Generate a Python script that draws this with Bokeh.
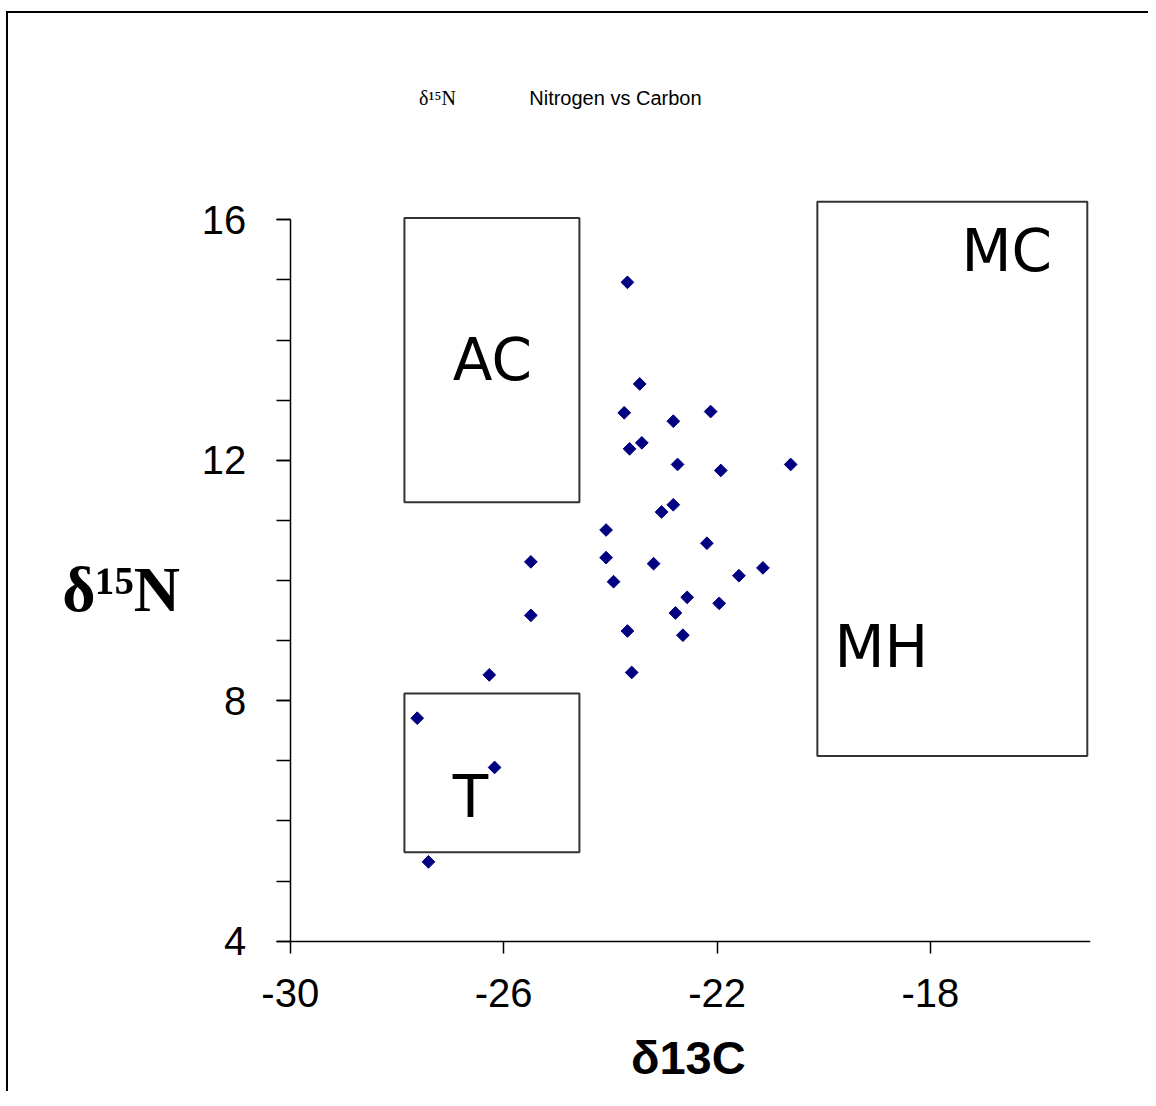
from bokeh.plotting import figure
from bokeh.models import FixedTicker, Label, Range1d, ColumnDataSource
from bokeh.core.properties import value
from bokeh.embed import file_html
from bokeh.resources import INLINE
import math

# ---- data ----
d13c = [-23.68, -23.45, -23.74, -22.82, -22.12, -23.64, -23.41, -22.74, -21.93, -20.62,
        -22.82, -23.04, -24.08, -22.19, -25.49, -24.08, -23.19, -21.14, -21.59, -23.94,
        -22.56, -21.96, -22.78, -25.49, -23.68, -22.64, -26.27, -23.60, -27.62, -26.17,
        -27.41]
d15n = [14.96, 13.27, 12.79, 12.65, 12.81, 12.19, 12.29, 11.93, 11.83, 11.93,
        11.26, 11.14, 10.84, 10.62, 10.31, 10.38, 10.28, 10.21, 10.08, 9.98,
        9.72, 9.62, 9.46, 9.42, 9.16, 9.09, 8.43, 8.47, 7.71, 6.89,
        5.32]

x_ticks = [-30, -26, -22, -18]
x_tick_labels = ["-30", "-26", "-22", "-18"]
y_ticks = [4, 8, 12, 16]
y_minor = list(range(4, 17))

box_left = [-27.86, -27.86, -20.12]
box_right = [-24.58, -24.58, -15.06]
box_top = [16.03, 8.12, 16.30]
box_bottom = [11.30, 5.48, 7.08]

region_names = ["AC", "T", "MC", "MH"]
region_x = [-26.21, -26.62, -16.57, -18.92]
region_y = [13.66, 6.40, 15.48, 8.90]

X0, X1 = -30, -15   # axis extents
Y0, Y1 = 4, 16

p = figure(frame_width=1067, frame_height=1022,
           x_range=Range1d(-35, -15), y_range=Range1d(1.5, 18.5),
           output_backend="svg", toolbar_location=None,
           min_border_left=15, min_border_top=56,
           min_border_right=58, min_border_bottom=0,
           background_fill_color="white", border_fill_color="white")
p.styles = {"border-top": "2px solid black", "border-left": "2px solid black",
            "margin-top": "11px", "margin-left": "6px"}
p.outline_line_color = None
p.grid.visible = False

# axes, drawn at the data origin (-30, 4)
p.xaxis.ticker = FixedTicker(ticks=x_ticks, minor_ticks=[])
p.xaxis.major_label_overrides = dict(zip(x_ticks, x_tick_labels))
p.yaxis.ticker = FixedTicker(ticks=y_ticks, minor_ticks=y_minor)
p.xaxis.bounds = (X0, X1)
p.yaxis.bounds = (Y0, Y1)
p.xaxis.fixed_location = Y0
p.yaxis.fixed_location = X0
for ax in (p.xaxis[0], p.yaxis[0]):
    ax.axis_line_color = "black"
    ax.axis_line_width = 1.5
    ax.major_tick_line_color = "black"
    ax.major_tick_line_width = 1.5
    ax.minor_tick_line_color = "black"
    ax.minor_tick_line_width = 1.5
    ax.major_tick_in = 0
    ax.minor_tick_in = 0
    ax.major_label_text_font = "Liberation Sans"
    ax.major_label_text_font_size = "40px"
    ax.major_label_text_color = "black"
p.xaxis.major_tick_out = 12
p.xaxis.minor_tick_out = 0
p.xaxis.major_label_standoff = 26
p.yaxis.major_tick_out = 14
p.yaxis.minor_tick_out = 14
p.yaxis.major_label_standoff = 30

# axis titles
p.add_layout(Label(x=-22.54, y=2.06, text="δ13C",
                   text_font="Liberation Sans", text_font_style="bold",
                   text_font_size="47px", text_align="center", text_baseline="middle",
                   text_color="black"))
p.add_layout(Label(x=-33.17, y=9.85, text="δ¹⁵N",
                   text_font="Liberation Serif", text_font_style="bold",
                   text_font_size="64px", text_align="center", text_baseline="middle",
                   text_color="black"))

# region boxes
p.quad(left=box_left, right=box_right, top=box_top, bottom=box_bottom,
       fill_alpha=0, line_color="#333333", line_width=2)

# region names
p.text(x=region_x, y=region_y, text=region_names, text_font=value("DejaVu Sans"),
       text_font_size="58px", text_align="center", text_baseline="middle",
       text_color="black")

# points
src = ColumnDataSource(dict(x=d13c, y=d15n))
p.scatter("x", "y", source=src, marker="square", angle=math.pi / 4, size=9,
          fill_color="#000080", line_color="#000080")

# title pieces
p.add_layout(Label(x=-27.24, y=18.03, text="δ¹⁵N", text_font="Liberation Serif",
                   text_font_size="20px", text_align="center", text_baseline="middle",
                   text_color="black"))
p.add_layout(Label(x=-25.52, y=18.03, text="Nitrogen vs Carbon", text_font="Liberation Sans",
                   text_font_size="20px", text_align="left", text_baseline="middle",
                   text_color="black"))

open("out.html", "w").write(file_html(p, INLINE))
